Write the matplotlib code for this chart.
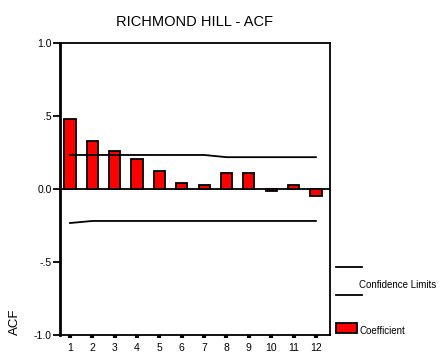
import matplotlib
matplotlib.use("Agg")
import matplotlib.pyplot as plt
from matplotlib.lines import Line2D
from matplotlib.patches import Rectangle

lags = [1, 2, 3, 4, 5, 6, 7, 8, 9, 10, 11, 12]
acf = [0.48, 0.33, 0.26, 0.205, 0.123, 0.041, 0.025, 0.11, 0.11, -0.015, 0.03, -0.045]
upper = [0.233, 0.233, 0.233, 0.233, 0.233, 0.233, 0.233, 0.218, 0.218, 0.218, 0.218, 0.218]
lower = [-0.233, -0.219, -0.219, -0.219, -0.219, -0.219, -0.219, -0.219, -0.219, -0.219, -0.219, -0.219]
yticks = [-1.0, -0.5, 0.0, 0.5, 1.0]
ytick_labels = ["-1.0", "-.5", "0.0", ".5", "1.0"]

plt.rcParams['font.family'] = ['Liberation Sans', 'DejaVu Sans']

W, H = 442, 356
fig = plt.figure(figsize=(W / 100, H / 100), dpi=100)
ax = fig.add_axes([60 / W, 21 / H, 270 / W, 292 / H])

ax.bar(lags, acf, width=0.5, color="#ff0000", edgecolor="black", linewidth=1.3, zorder=3)
ax.plot(lags, upper, color="black", linewidth=1.3, zorder=4)
ax.plot(lags, lower, color="black", linewidth=1.3, zorder=4)
ax.axhline(0, color="black", linewidth=1.3, zorder=2)

ax.set_xlim(0.553, 12.63)
ax.set_ylim(-1.0, 1.0)
ax.set_yticks(yticks)
ax.set_yticklabels(ytick_labels)
ax.set_xticks(lags)
ax.set_xticklabels([str(l) for l in lags])
ax.tick_params(axis="y", direction="out", length=5, width=1.3, labelsize=7.5, pad=1)
ax.tick_params(axis="x", direction="out", length=2.5, width=3, labelsize=7.5, pad=3)
for s in ax.spines.values():
    s.set_linewidth(1.3)
ax.spines["left"].set_linewidth(2)

ax.set_title("RICHMOND HILL - ACF", fontsize=10.5, pad=12)
fig.text(15 / W, 1 - 322 / H, "ACF", rotation=90, fontsize=9.5, ha="center", va="center")

# legend
fig.add_artist(Line2D([336 / W, 362 / W], [1 - 267 / H, 1 - 267 / H], color="black", linewidth=1.3))
fig.add_artist(Line2D([336 / W, 362 / W], [1 - 295 / H, 1 - 295 / H], color="black", linewidth=1.3))
fig.text(359 / W, 1 - 285 / H, "Confidence Limits", fontsize=7, ha="left", va="center")
fig.add_artist(Rectangle((336 / W, 1 - 333 / H), 21 / W, 10 / H, facecolor="#ff0000",
                         edgecolor="black", linewidth=1.3, transform=fig.transFigure))
fig.text(359 / W, 1 - 331 / H, "Coefficient", fontsize=7, ha="left", va="center")

fig.savefig("out.png", dpi=100)
